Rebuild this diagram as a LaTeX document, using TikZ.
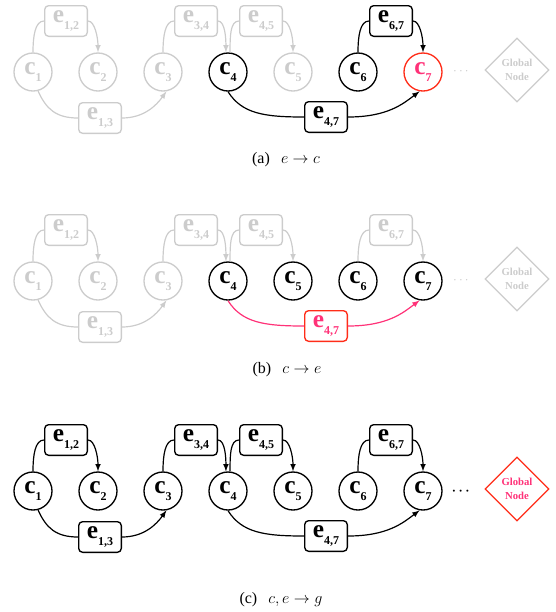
\documentclass[tikz,border=0pt]{standalone}
\usepackage{fontspec}
\setmainfont{Liberation Serif}
\usetikzlibrary{arrows}
\usetikzlibrary{shapes}
\usetikzlibrary{backgrounds,positioning}
\usepackage{amsmath}
\usepackage{xcolor}
\definecolor{lgray}{RGB}{204,204,204}
\definecolor{hotred}{RGB}{255,45,25}
\definecolor{hotpink}{RGB}{255,50,120}
\newcommand{\lab}[2]{\textbf{#1}\raisebox{-5pt}{\fontsize{9}{9}\selectfont\bfseries #2}}

\begin{document}
\begin{tikzpicture}[x=0.75pt,y=-0.75pt]
      \useasboundingbox (0,0) rectangle (556,612);
      \tikzstyle{every node}=[inner sep=0pt]
      \tikzstyle{cnode}=[circle,draw,line width=1pt,minimum size=28.5pt,font=\fontsize{19}{19}\selectfont]
      \tikzstyle{enode}=[rectangle,rounded corners=3pt,draw,line width=1pt,minimum width=32pt,minimum height=23pt,font=\fontsize{19}{19}\selectfont]
      \tikzstyle{gnode}=[diamond,draw,line width=1pt,minimum width=48pt,minimum height=48pt,align=center,font=\fontsize{8}{10.5}\selectfont\bfseries]
      \tikzstyle{dots}=[font=\fontsize{10}{10}\selectfont]
      \tikzstyle{captext}=[font=\fontsize{12}{14}\selectfont]
      \tikzstyle{link}=[line width=0.9pt]
      \tikzstyle{off}=[draw=lgray,text=lgray]
      \tikzstyle{on}=[draw=black,text=black]
      \tikzstyle{hot}=[draw=hotred,text=hotpink]

      % (a) e -> c
      \foreach \i/\s in {1/off,2/off,3/off,4/on,5/off,6/on,7/hot}
        \node[cnode,\s] (ac\i) at (-32+65*\i,72) {\lab{c}{\i}};
      \node[enode,off] (ae12) at (66,21)  {\lab{e}{1,2}};
      \node[enode,off] (ae13) at (100,118) {\lab{e}{1,3}};
      \node[enode,off] (ae34) at (196,21) {\lab{e}{3,4}};
      \node[enode,off] (ae45) at (261,21) {\lab{e}{4,5}};
      \node[enode,on]  (ae67) at (391,21) {\lab{e}{6,7}};
      \node[enode,on]  (ae47) at (326,117) {\lab{e}{4,7}};
      \node[dots,text=lgray] (adots) at (462,72) {$\cdots$};
      \node[gnode,off] (ag) at (517,70) {Global\\Node};

      \draw[link,lgray] (ac1.north) .. controls +(0,-16) and +(-9,0) .. (ae12.west);
      \draw[link,lgray,-latex] (ae12.east) .. controls +(7,0) and +(0,-14) .. (ac2.north);
      \draw[link,lgray] (ac1.-75) .. controls +(8,18) and +(-22,0) .. (ae13.west);
      \draw[link,lgray,-latex] (ae13.east) .. controls +(22,0) and +(-10,14) .. (ac3.-80);
      \draw[link,lgray] (ac3.north) .. controls +(0,-16) and +(-9,0) .. (ae34.west);
      \draw[link,lgray,-latex] (ae34.east) .. controls +(7,0) and +(0,-14) .. (ac4.96);
      \draw[link,lgray] (ac4.84) .. controls +(0,-16) and +(-9,0) .. (ae45.west);
      \draw[link,lgray,-latex] (ae45.east) .. controls +(7,0) and +(0,-14) .. (ac5.north);
      \draw[link] (ac6.north) .. controls +(0,-16) and +(-9,0) .. (ae67.west);
      \draw[link,-latex] (ae67.east) .. controls +(7,0) and +(0,-14) .. (ac7.north);
      \draw[link] (ac4.-90) .. controls +(14,22) and +(-40,0) .. (ae47.west);
      \draw[link,-latex] (ae47.east) .. controls +(40,0) and +(-16,12) .. (ac7.-100);

      % (b) c -> e
      \begin{scope}[shift={(0,209)}]
      \foreach \i/\s in {1/off,2/off,3/off,4/on,5/on,6/on,7/on}
        \node[cnode,\s] (bc\i) at (-32+65*\i,72) {\lab{c}{\i}};
      \node[enode,off] (be12) at (66,21)  {\lab{e}{1,2}};
      \node[enode,off] (be13) at (100,118) {\lab{e}{1,3}};
      \node[enode,off] (be34) at (196,21) {\lab{e}{3,4}};
      \node[enode,off] (be45) at (261,21) {\lab{e}{4,5}};
      \node[enode,off] (be67) at (391,21) {\lab{e}{6,7}};
      \node[enode,hot] (be47) at (326,117) {\lab{e}{4,7}};
      \node[dots,text=lgray] (bdots) at (462,72) {$\cdots$};
      \node[gnode,off] (bg) at (517,70) {Global\\Node};

      \draw[link,lgray] (bc1.north) .. controls +(0,-16) and +(-9,0) .. (be12.west);
      \draw[link,lgray,-latex] (be12.east) .. controls +(7,0) and +(0,-14) .. (bc2.north);
      \draw[link,lgray] (bc1.-75) .. controls +(8,18) and +(-22,0) .. (be13.west);
      \draw[link,lgray,-latex] (be13.east) .. controls +(22,0) and +(-10,14) .. (bc3.-80);
      \draw[link,lgray] (bc3.north) .. controls +(0,-16) and +(-9,0) .. (be34.west);
      \draw[link,lgray,-latex] (be34.east) .. controls +(7,0) and +(0,-14) .. (bc4.96);
      \draw[link,lgray] (bc4.84) .. controls +(0,-16) and +(-9,0) .. (be45.west);
      \draw[link,lgray,-latex] (be45.east) .. controls +(7,0) and +(0,-14) .. (bc5.north);
      \draw[link,lgray] (bc6.north) .. controls +(0,-16) and +(-9,0) .. (be67.west);
      \draw[link,lgray,-latex] (be67.east) .. controls +(7,0) and +(0,-14) .. (bc7.north);
      \draw[link,hotpink] (bc4.-90) .. controls +(14,22) and +(-40,0) .. (be47.west);
      \draw[link,hotpink,-latex] (be47.east) .. controls +(40,0) and +(-16,12) .. (bc7.-100);
      \end{scope}

      % (c) c, e -> g
      \begin{scope}[shift={(0,419)}]
      \foreach \i in {1,...,7}
        \node[cnode,on] (cc\i) at (-32+65*\i,72) {\lab{c}{\i}};
      \node[enode,on] (ce12) at (66,21)  {\lab{e}{1,2}};
      \node[enode,on] (ce13) at (100,118) {\lab{e}{1,3}};
      \node[enode,on] (ce34) at (196,21) {\lab{e}{3,4}};
      \node[enode,on] (ce45) at (261,21) {\lab{e}{4,5}};
      \node[enode,on] (ce67) at (391,21) {\lab{e}{6,7}};
      \node[enode,on] (ce47) at (326,117) {\lab{e}{4,7}};
      \node[dots] (cdots) at (462,72) {$\boldsymbol{\cdots}$};
      \node[gnode,hot] (cg) at (517,70) {Global\\Node};

      \draw[link] (cc1.north) .. controls +(0,-16) and +(-9,0) .. (ce12.west);
      \draw[link,-latex] (ce12.east) .. controls +(7,0) and +(0,-14) .. (cc2.north);
      \draw[link] (cc1.-75) .. controls +(8,18) and +(-22,0) .. (ce13.west);
      \draw[link,-latex] (ce13.east) .. controls +(22,0) and +(-10,14) .. (cc3.-80);
      \draw[link] (cc3.north) .. controls +(0,-16) and +(-9,0) .. (ce34.west);
      \draw[link,-latex] (ce34.east) .. controls +(7,0) and +(0,-14) .. (cc4.96);
      \draw[link] (cc4.84) .. controls +(0,-16) and +(-9,0) .. (ce45.west);
      \draw[link,-latex] (ce45.east) .. controls +(7,0) and +(0,-14) .. (cc5.north);
      \draw[link] (cc6.north) .. controls +(0,-16) and +(-9,0) .. (ce67.west);
      \draw[link,-latex] (ce67.east) .. controls +(7,0) and +(0,-14) .. (cc7.north);
      \draw[link] (cc4.-90) .. controls +(14,22) and +(-40,0) .. (ce47.west);
      \draw[link,-latex] (ce47.east) .. controls +(40,0) and +(-16,12) .. (cc7.-100);
      \end{scope}

      \node[captext] (acap) at (286,160) {(a)\hspace{0.7em}$e\rightarrow c$};
      \node[captext] (bcap) at (287,370) {(b)\hspace{0.7em}$c\rightarrow e$};
      \node[captext] (ccap) at (281,600) {(c)\hspace{0.7em}$c,e\rightarrow g$};
    \end{tikzpicture}
\end{document}
